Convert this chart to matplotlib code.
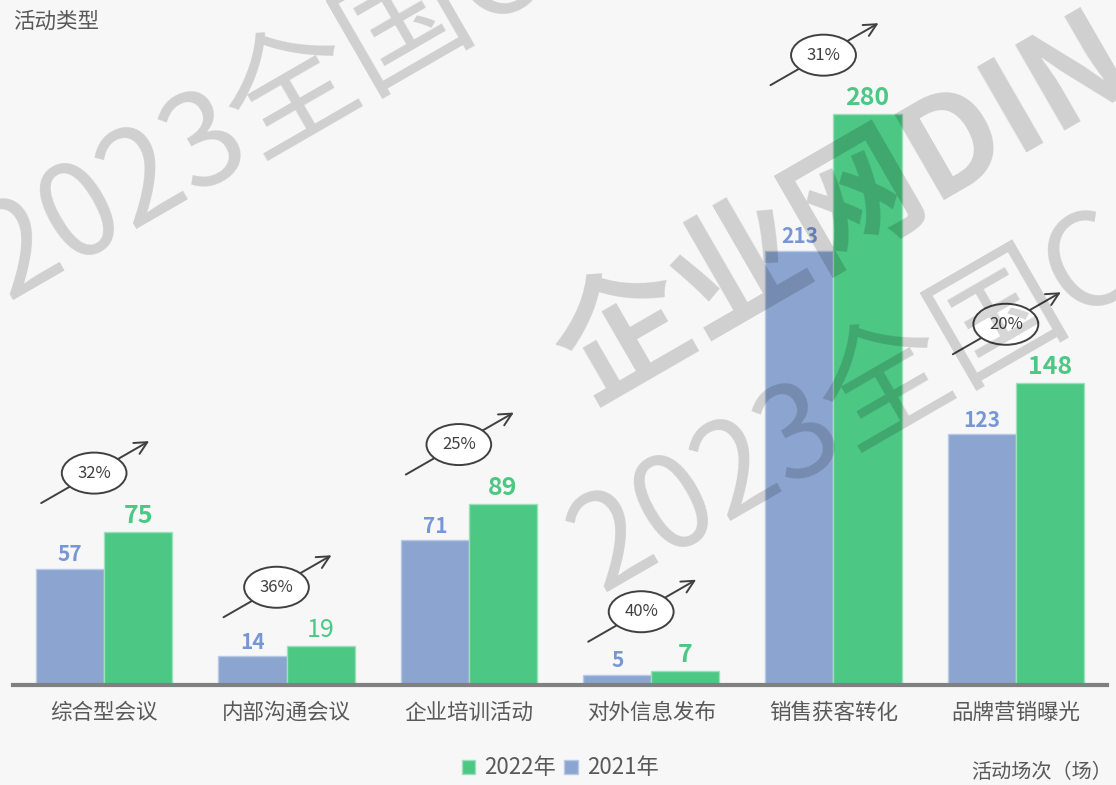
import matplotlib
matplotlib.use("Agg")
import matplotlib.pyplot as plt
from matplotlib.transforms import offset_copy
import numpy as np

plt.rcParams['font.family'] = ['Noto Sans CJK SC', 'DejaVu Sans']

categories = ["综合型会议", "内部沟通会议", "企业培训活动", "对外信息发布", "销售获客转化", "品牌营销曝光"]
v2021 = [57, 14, 71, 5, 213, 123]
v2022 = [75, 19, 89, 7, 280, 148]
growth = ["32%", "36%", "25%", "40%", "31%", "20%"]
bold_2022 = [True, False, True, True, True, True]

BG = "#f7f7f7"
BLUE = "#8ba5d0"
GREEN = "#4cc784"
BLUE_TXT = "#7796d6"
GREEN_TXT = "#4cc784"
GRAY_TXT = "#595959"

W, H = 1116, 785
fig = plt.figure(figsize=(W / 100, H / 100), dpi=100, facecolor=BG)
ax = fig.add_axes([13 / W, 100 / H, 1094 / W, 685 / H])
ax.set_facecolor(BG)

x = np.arange(len(categories))
bw = 0.373
ax.bar(x - bw / 2, v2021, bw, color=BLUE, edgecolor="#b8c9e8", linewidth=1, label="2021年", zorder=2)
ax.bar(x + bw / 2, v2022, bw, color=GREEN, edgecolor="#9be0bb", linewidth=1, label="2022年", zorder=2)

ax.set_xlim(-0.5, 5.5)
ax.set_ylim(0, 336)
for s in ["top", "left", "right"]:
    ax.spines[s].set_visible(False)
ax.spines["bottom"].set_color("#808080")
ax.spines["bottom"].set_linewidth(3)
ax.spines["bottom"].set_zorder(5)
ax.set_yticks([])
ax.set_xticks(x)
ax.set_xticklabels(categories, fontsize=15.5, color=GRAY_TXT)
ax.tick_params(axis="x", length=0, pad=12)

for i in range(len(categories)):
    ax.annotate(str(v2021[i]), (x[i] - bw / 2, v2021[i]), xytext=(0, 5.5), textcoords="offset points",
                ha="center", va="baseline", fontsize=15, fontweight="bold", color=BLUE_TXT, zorder=4)
    ax.annotate(str(v2022[i]), (x[i] + bw / 2, v2022[i]), xytext=(0, 6.5), textcoords="offset points",
                ha="center", va="baseline", fontsize=18,
                fontweight="bold" if bold_2022[i] else "normal", color=GREEN_TXT, zorder=4)
    # growth arrow + ellipse, positioned relative to the 2022 bar top
    anchor = (x[i], v2022[i])
    t_start = offset_copy(ax.transData, fig=fig, x=-63, y=29, units="dots")
    t_end = offset_copy(ax.transData, fig=fig, x=45, y=91, units="dots")
    ax.annotate("", xy=anchor, xycoords=t_end, xytext=anchor, textcoords=t_start,
                arrowprops=dict(arrowstyle="->,head_length=0.9,head_width=0.45", color="#404040",
                                lw=1.4, shrinkA=0, shrinkB=0), zorder=6)
    t_ell = offset_copy(ax.transData, fig=fig, x=-10, y=59, units="dots")
    ax.text(anchor[0], anchor[1], growth[i], transform=t_ell, ha="center", va="center",
            fontsize=12, color="#404040", zorder=7,
            bbox=dict(boxstyle="ellipse,pad=0.36", fc="white", ec="#404040", lw=1.4))

# watermarks
wm = dict(color="black", alpha=0.16, rotation=30, rotation_mode="anchor", ha="left", va="baseline",
          zorder=10)
fig.text(8 / W, 1 - 300 / H, "2023全国C", fontsize=93, fontweight="light", **wm)
fig.text(602 / W, 1 - 592 / H, "2023全国C", fontsize=93, fontweight="light", **wm)
fig.text(588 / W, 1 - 405 / H, "企业网DIN", fontsize=96, fontweight="bold", **wm)

fig.text(13 / W, 1 - 22 / H, "活动类型", fontsize=15.5, color=GRAY_TXT, ha="left", va="center")
fig.text(1112 / W, 1 - 773 / H, "活动场次（场）", fontsize=14.5, color=GRAY_TXT, ha="right", va="center")

h, l = ax.get_legend_handles_labels()
leg = fig.legend([h[1], h[0]], [l[1], l[0]], loc="center", bbox_to_anchor=(560 / W, 1 - 768 / H),
                 ncol=2, frameon=False, fontsize=16, handlelength=0.6, handleheight=0.6,
                 handletextpad=0.4, columnspacing=0.4, labelcolor=GRAY_TXT)

fig.savefig("out.png", dpi=100, facecolor=BG)
